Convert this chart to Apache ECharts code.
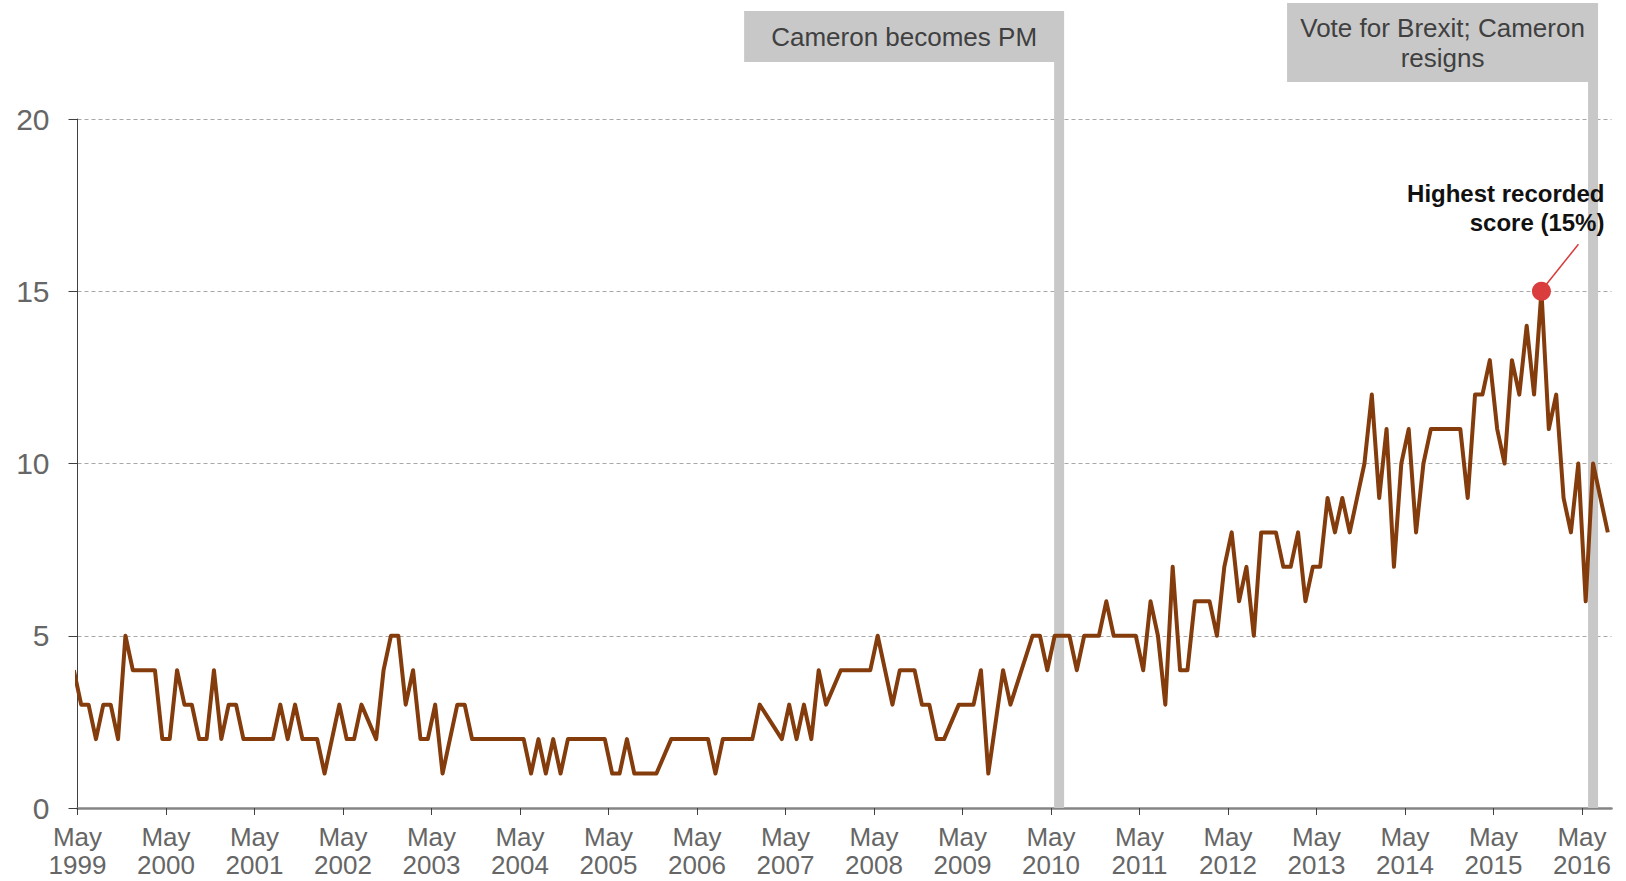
<!DOCTYPE html>
<html>
<head>
<meta charset="utf-8">
<script src="https://cdn.jsdelivr.net/npm/echarts@6/dist/echarts.min.js"></script>
<style>
html,body{margin:0;padding:0;background:#ffffff;}
#chart{width:1626px;height:881px;}
</style>
</head>
<body>
<div id="chart"></div>
<script>
// Monthly score (%), first value = April 1999, then May 1999 ... August 2016.
// null = month without a survey (line is joined across it).
const firstMonthLabel = 'Apr 1999';
const values = [4,
  3,3,2,3,3,2,5,4,4,4,4,2,
  2,4,3,3,2,2,4,2,3,3,2,2,
  2,2,2,3,2,3,2,2,2,1,2,3,
  2,2,3,null,2,4,5,5,3,4,2,2,
  3,1,2,3,3,2,2,2,2,2,2,2,
  2,1,2,1,2,1,2,2,2,2,2,2,
  1,1,2,1,1,1,1,null,2,2,2,2,
  2,2,1,2,2,2,2,2,3,null,null,2,
  3,2,3,2,4,3,null,4,4,4,4,4,
  5,4,3,4,4,4,3,3,2,2,null,3,
  3,3,4,1,null,4,3,null,null,5,5,4,
  5,5,5,4,5,5,5,6,5,5,5,5,
  4,6,5,3,7,4,4,6,6,6,5,7,
  8,6,7,5,8,8,8,7,7,8,6,7,
  7,9,8,9,8,9,10,12,9,11,7,10,
  11,8,10,11,11,11,11,11,9,12,12,13,
  11,10,13,12,14,12,15,11,12,9,8,10,
  6,10,9,8];

const tickLabels = ['May\n1999','May\n2000','May\n2001','May\n2002','May\n2003','May\n2004',
  'May\n2005','May\n2006','May\n2007','May\n2008','May\n2009','May\n2010','May\n2011',
  'May\n2012','May\n2013','May\n2014','May\n2015','May\n2016'];

const yTicks = [0, 5, 10, 15, 20];

// Events: position in months counted from the start of May 1999
const eventMonths = [133.1, 205.5];
const eventLabels = ['Cameron becomes PM', 'Vote for Brexit; Cameron\nresigns'];

const peakLabel = 'Highest recorded\nscore (15%)';

// ---------------------------------------------------------------
const FONT = '"Liberation Sans", Arial, Helvetica, sans-serif';
const lineData = values.map((v, i) => [i - 0.5, v]);
const tickVals = tickLabels.map((_, i) => i * 12);
let peakIdx = 0;
values.forEach((v, i) => { if (v != null && v > values[peakIdx]) peakIdx = i; });
const peakData = [[peakIdx - 0.5, values[peakIdx]]];
const eventData = eventMonths.map(m => [m, 0]);

const boxStyles = [
  { w: 320, h: 51, top: 11 },
  { w: 311, h: 79, top: 3 }
];

const chart = echarts.init(document.getElementById('chart'), null, { renderer: 'svg' });

const option = {
  animation: false,
  backgroundColor: '#ffffff',
  grid: { left: 77.5, right: 14.5, top: 119, bottom: 73, containLabel: false, outerBoundsMode: 'none' },
  xAxis: {
    type: 'value',
    min: 0,
    max: 208,
    interval: 12,
    axisLine: { show: true, onZero: false, lineStyle: { color: '#858585', width: 2.5 } },
    axisTick: { show: true, customValues: tickVals, length: 7, lineStyle: { color: '#404040', width: 1 } },
    axisLabel: {
      customValues: tickVals,
      formatter: v => tickLabels[Math.round(v / 12)] || '',
      color: '#666666', fontSize: 26, lineHeight: 28, fontFamily: FONT, margin: 15
    },
    splitLine: { show: false }
  },
  yAxis: {
    type: 'value',
    min: 0,
    max: 20,
    interval: 5,
    axisLine: { show: true, lineStyle: { color: '#404040', width: 1 } },
    axisTick: { show: true, length: 9, lineStyle: { color: '#404040', width: 1 } },
    axisLabel: { color: '#666666', fontSize: 30, fontFamily: FONT, margin: 28 },
    splitLine: { show: true, lineStyle: { color: '#A8A8A8', width: 1, type: [4, 3] } }
  },
  series: [
    {
      type: 'custom',
      name: 'events',
      data: eventData,
      z: 2,
      clip: false,
      renderItem: function (params, api) {
        const i = params.dataIndex;
        const base = api.coord([api.value(0), api.value(1)]);
        const b = boxStyles[i];
        const bw = 10;
        const right = base[0] + bw / 2;
        return {
          type: 'group',
          children: [
            { type: 'rect', shape: { x: base[0] - bw / 2, y: b.top + b.h, width: bw, height: base[1] - (b.top + b.h) }, style: { fill: '#C8C8C8' } },
            { type: 'rect', shape: { x: right - b.w, y: b.top, width: b.w, height: b.h }, style: { fill: '#C8C8C8' } },
            { type: 'text', x: right - b.w / 2, y: b.top + b.h / 2,
              style: { text: eventLabels[i], fill: '#404040', font: '26px ' + FONT, align: 'center', verticalAlign: 'middle', lineHeight: 30 } }
          ]
        };
      }
    },
    {
      type: 'line',
      name: 'score',
      data: lineData,
      connectNulls: true,
      showSymbol: false,
      symbol: 'none',
      z: 3,
      lineStyle: { color: '#843C0C', width: 4, join: 'round' }
    },
    {
      type: 'custom',
      name: 'peak',
      data: peakData,
      z: 4,
      clip: false,
      renderItem: function (params, api) {
        const p = api.coord([api.value(0), api.value(1)]);
        return {
          type: 'group',
          children: [
            { type: 'line', shape: { x1: p[0] + 5, y1: p[1] - 7, x2: p[0] + 37, y2: p[1] - 47 }, style: { stroke: '#D93A3A', lineWidth: 1.5 } },
            { type: 'circle', shape: { cx: p[0], cy: p[1], r: 9.5 }, style: { fill: '#D93D3D' } },
            { type: 'text', x: p[0] + 63, y: p[1] - 83,
              style: { text: peakLabel, fill: '#111111', font: 'bold 24px ' + FONT, align: 'right', verticalAlign: 'middle', lineHeight: 29 } }
          ]
        };
      }
    }
  ]
};
chart.setOption(option);
</script>
</body>
</html>
